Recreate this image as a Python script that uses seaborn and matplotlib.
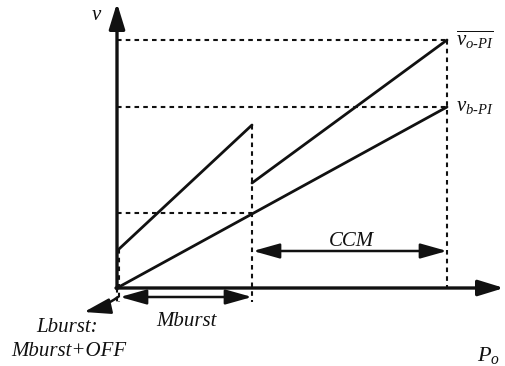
import matplotlib
matplotlib.use("Agg")
import matplotlib.pyplot as plt
import seaborn as sns
import pandas as pd

sns.set_theme(style="white")
plt.rcParams["font.family"] = ["Liberation Serif", "DejaVu Serif"]
plt.rcParams["mathtext.fontset"] = "custom"
plt.rcParams["mathtext.it"] = "Liberation Serif:italic"
plt.rcParams["mathtext.rm"] = "Liberation Serif"

# Operating points (output power P, voltage v) in drawing units
p_lburst = 2
p_mburst = 135
p_ccm = 330

# reference voltage v_b-PI: linear from the origin
vb_p = [0, p_ccm]
vb_v = [0, 181]

# output voltage v_o-PI: burst-mode segment, then CCM segment
vo_burst_p = [p_lburst, p_mburst]
vo_burst_v = [39, 163]
vo_ccm_p = [p_mburst, p_ccm]
vo_ccm_v = [105, 248]

# dashed guide level
v_mid = 75

# placement of the origin on the canvas
X0, Y0 = 117, 288
INK = "#111111"


def X(p):
    return [X0 + q for q in p] if isinstance(p, (list, tuple)) else X0 + p


def Y(v):
    return [Y0 - q for q in v] if isinstance(v, (list, tuple)) else Y0 - v


fig = plt.figure(figsize=(5.06, 3.66), dpi=100)
ax = fig.add_axes([0, 0, 1, 1])
ax.set_xlim(0, 506)
ax.set_ylim(366, 0)
ax.axis("off")

lw = 2.0
segs = [
    ("vb", vb_p, vb_v),
    ("vo_burst", vo_burst_p, vo_burst_v),
    ("vo_ccm", vo_ccm_p, vo_ccm_v),
]
for name, p, v in segs:
    df = pd.DataFrame({"x": X(p), "y": Y(v)})
    sns.lineplot(data=df, x="x", y="y", ax=ax, color=INK, lw=lw,
                 sort=False, estimator=None)

dot = dict(color=INK, lw=1.5, ls=(0, (2.2, 2.0)))
# horizontal dashed guides
ax.plot([X0, X(p_ccm)], [Y(vo_ccm_v[1])] * 2, **dot)
ax.plot([X0, X(p_ccm)], [Y(vb_v[1])] * 2, **dot)
ax.plot([X0, X(p_mburst)], [Y(v_mid)] * 2, **dot)
# vertical dashed guides
ax.plot([X(p_ccm)] * 2, [Y(vo_ccm_v[1]), Y0], **dot)
ax.plot([X(p_mburst)] * 2, [Y(vo_burst_v[1]), Y0 + 14], **dot)
ax.plot([X(p_lburst)] * 2, [Y(vo_burst_v[0]), Y0 + 14], **dot)
ax.plot([X0] * 2, [Y0, Y0 + 14], **dot)

# axes with arrowheads
axis_arrow = dict(arrowstyle="-|>,head_length=1.3,head_width=0.4",
                  color=INK, lw=2.4, shrinkA=0, shrinkB=0)
ax.annotate("", xy=(X0, 3), xytext=(X0, Y0 + 1), arrowprops=axis_arrow)
ax.annotate("", xy=(504, Y0), xytext=(X0 - 1, Y0), arrowprops=axis_arrow)

# range arrows
rng = dict(arrowstyle="<|-|>,head_length=1.35,head_width=0.38",
           color=INK, lw=1.8, shrinkA=0, shrinkB=0)
ax.annotate("", xy=(X(p_lburst) + 1, 297), xytext=(X(p_mburst), 297),
            arrowprops=rng)
ax.annotate("", xy=(X(p_mburst) + 1, 251), xytext=(X(p_ccm), 251),
            arrowprops=rng)
ax.annotate("", xy=(84, 312), xytext=(X(p_lburst) - 1, 297),
            arrowprops=dict(arrowstyle="-|>,head_length=1.35,head_width=0.4",
                            color=INK, lw=1.8, shrinkA=0, shrinkB=0,
                            connectionstyle="arc3,rad=-0.1"))

fs = 15
tk = dict(color=INK, fontsize=fs, style="italic")
ax.text(96, 16, "v", ha="center", va="center", **tk)
ax.text(456, 40, r"$\overline{v_{o\text{-}PI}}$", ha="left", va="center",
        color=INK, fontsize=fs)
ax.text(456, 107, r"$v_{b\text{-}PI}$", ha="left", va="center",
        color=INK, fontsize=fs)
ax.text(351, 242, "CCM", ha="center", va="center", **tk)
ax.text(186, 321, "Mburst", ha="center", va="center", **tk)
ax.text(67, 327, "Lburst:", ha="center", va="center", **tk)
ax.text(69, 351, "Mburst+OFF", ha="center", va="center", **tk)
ax.text(500, 356, r"$P_o$", ha="right", va="center", color=INK,
        fontsize=fs + 1)

fig.savefig("out.png", dpi=100)
